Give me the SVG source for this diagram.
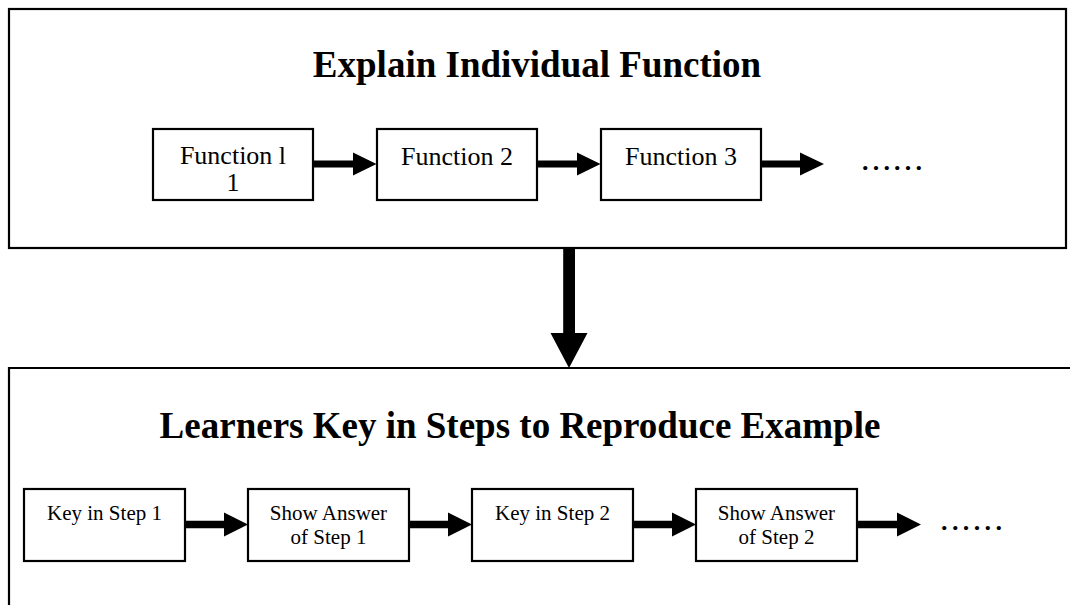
<svg xmlns="http://www.w3.org/2000/svg" width="1070" height="605" viewBox="0 0 1070 605">
<style>
  .frame { fill: none; stroke: #000; stroke-width: 2.2; }
  .box { fill: #fff; stroke: #000; stroke-width: 2.2; }
  .title { font-family: "Liberation Serif", "Times New Roman", serif; font-weight: bold; font-size: 37px; fill: #000; text-anchor: middle; }
  .lbl { font-family: "Liberation Serif", "Times New Roman", serif; font-size: 26px; fill: #000; text-anchor: middle; }
  .lbl2 { font-family: "Liberation Serif", "Times New Roman", serif; font-size: 21px; fill: #000; text-anchor: middle; }
  .dots { font-family: "Liberation Serif", "Times New Roman", serif; font-weight: bold; font-size: 26px; fill: #000; }
  .arrow { fill: #000; stroke: none; }
</style>
<rect width="1070" height="605" fill="#fff"/>

<g id="panel-top">
  <rect class="frame" x="9" y="9" width="1057" height="239"/>
  <text class="title" x="537" y="77">Explain Individual Function</text>
</g>
<g id="panel-bottom">
  <path class="frame" d="M9,610 L9,368 L1075,368"/>
  <text class="title" x="520" y="438">Learners Key in Steps to Reproduce Example</text>
</g>

<g id="function1">
  <rect class="box" x="153" y="129" width="160" height="71"/>
  <text class="lbl" x="233" y="164">Function l</text>
  <text class="lbl" x="233" y="191">1</text>
</g>
<g id="function2">
  <rect class="box" x="377" y="129" width="160" height="71"/>
  <text class="lbl" x="457" y="165">Function 2</text>
</g>
<g id="function3">
  <rect class="box" x="601" y="129" width="160" height="71"/>
  <text class="lbl" x="681" y="165">Function 3</text>
</g>
<g id="dots-top">
  <text class="dots" x="862" y="170" textLength="60" lengthAdjust="spacing">......</text>
</g>

<g id="step1">
  <rect class="box" x="24" y="489" width="161" height="72"/>
  <text class="lbl2" x="104.5" y="520">Key in Step 1</text>
</g>
<g id="answer1">
  <rect class="box" x="248" y="489" width="161" height="72"/>
  <text class="lbl2" x="328.5" y="520">Show Answer</text>
  <text class="lbl2" x="328.5" y="544">of Step 1</text>
</g>
<g id="step2">
  <rect class="box" x="472" y="489" width="161" height="72"/>
  <text class="lbl2" x="552.5" y="520">Key in Step 2</text>
</g>
<g id="answer2">
  <rect class="box" x="696" y="489" width="161" height="72"/>
  <text class="lbl2" x="776.5" y="520">Show Answer</text>
  <text class="lbl2" x="776.5" y="544">of Step 2</text>
</g>
<g id="dots-bottom">
  <text class="dots" x="941" y="530" textLength="61" lengthAdjust="spacing">......</text>
</g>

<g id="connectors">
  <!-- top row -->
  <path class="arrow" d="M314,160.5 H353 V152.5 L376.5,164 L353,175.5 V167.5 H314 Z"/>
  <path class="arrow" d="M538,160.5 H577 V152.5 L600.5,164 L577,175.5 V167.5 H538 Z"/>
  <path class="arrow" d="M762,160.5 H800 V152.5 L824,164 L800,175.5 V167.5 H762 Z"/>
  <!-- vertical -->
  <path class="arrow" d="M563.2,249 H575 V333 H587.5 L569,368 L550.5,333 H563.2 Z"/>
  <!-- bottom row -->
  <path class="arrow" d="M186,520.8 H224 V512.5 L248,524.5 L224,536.5 V528.2 H186 Z"/>
  <path class="arrow" d="M410,520.8 H448 V512.5 L472,524.5 L448,536.5 V528.2 H410 Z"/>
  <path class="arrow" d="M634,520.8 H672 V512.5 L696,524.5 L672,536.5 V528.2 H634 Z"/>
  <path class="arrow" d="M858,520.8 H897 V512.5 L921,524.5 L897,536.5 V528.2 H858 Z"/>
</g>
</svg>
